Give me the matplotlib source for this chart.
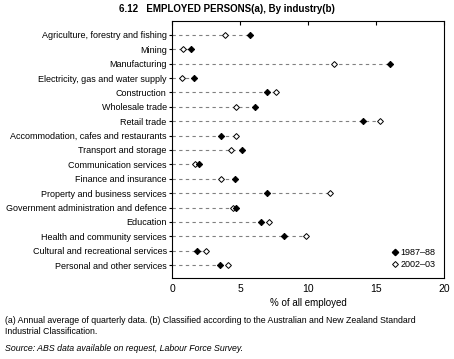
import matplotlib
matplotlib.use("Agg")
import matplotlib.pyplot as plt
from matplotlib.lines import Line2D
import numpy as np

plt.rcParams["font.family"] = ["Liberation Sans", "DejaVu Sans"]

industries = [
    "Agriculture, forestry and fishing",
    "Mining",
    "Manufacturing",
    "Electricity, gas and water supply",
    "Construction",
    "Wholesale trade",
    "Retail trade",
    "Accommodation, cafes and restaurants",
    "Transport and storage",
    "Communication services",
    "Finance and insurance",
    "Property and business services",
    "Government administration and defence",
    "Education",
    "Health and community services",
    "Cultural and recreational services",
    "Personal and other services",
]
y1987 = [5.7, 1.4, 16.0, 1.6, 7.0, 6.1, 14.0, 3.6, 5.1, 2.0, 4.6, 7.0, 4.7, 6.5, 8.2, 1.8, 3.5]
y2002 = [3.9, 0.8, 11.9, 0.7, 7.6, 4.7, 15.3, 4.7, 4.3, 1.7, 3.6, 11.6, 4.5, 7.1, 9.8, 2.5, 4.1]
labels = ["1987\u201388", "2002\u201303"]

fig = plt.figure(figsize=(4.54, 3.59), dpi=100)
ax = fig.add_axes([0.3795, 0.2256, 0.599, 0.716])

y = np.arange(len(industries))
for yi, a, b in zip(y, y1987, y2002):
    ax.plot([0, max(a, b)], [yi, yi], color="#808080", lw=0.8,
            dashes=(3, 3), zorder=1)
ax.plot(y2002, y, ls="none", marker="D", ms=3.0, mfc="white", mec="black",
        mew=0.7, zorder=2)
ax.plot(y1987, y, ls="none", marker="D", ms=3.2, mfc="black", mec="black",
        mew=0.7, zorder=3)

ax.set_xlim(0, 20)
ax.set_ylim(len(industries) - 1 + 0.9, -0.97)
ax.set_xticks([0, 5, 10, 15, 20])
ax.set_yticks(y)
ax.set_yticklabels(industries, fontsize=6.5)
ax.tick_params(axis="x", which="both", bottom=False, top=True, direction="in",
               length=3, width=0.8, labelsize=7.5, pad=4)
ax.tick_params(axis="y", length=2, width=0.8, pad=2)
for s in ax.spines.values():
    s.set_linewidth(0.8)
ax.set_xlabel("% of all employed", fontsize=7, labelpad=3)

handles = [
    Line2D([], [], ls="none", marker="D", ms=3.2, mfc="black", mec="black"),
    Line2D([], [], ls="none", marker="D", ms=3.0, mfc="white", mec="black", mew=0.7),
]
ax.legend(handles, labels, loc="lower right", frameon=False, fontsize=6.5,
          handlelength=0.6, handletextpad=0.3, labelspacing=0.35,
          borderaxespad=0.6)

fig.text(0.5, 0.975, "6.12   EMPLOYED PERSONS(a), By industry(b)", ha="center",
         va="center", fontsize=7, fontweight="bold")
fig.text(0.01, 0.092, "(a) Annual average of quarterly data. (b) Classified according to the Australian and New Zealand Standard\nIndustrial Classification.",
         ha="left", va="center", fontsize=6.3, linespacing=1.35)
fig.text(0.01, 0.028, "Source: ABS data available on request, Labour Force Survey.",
         ha="left", va="center", fontsize=6.3, style="italic")

fig.savefig("out.png", dpi=100)
